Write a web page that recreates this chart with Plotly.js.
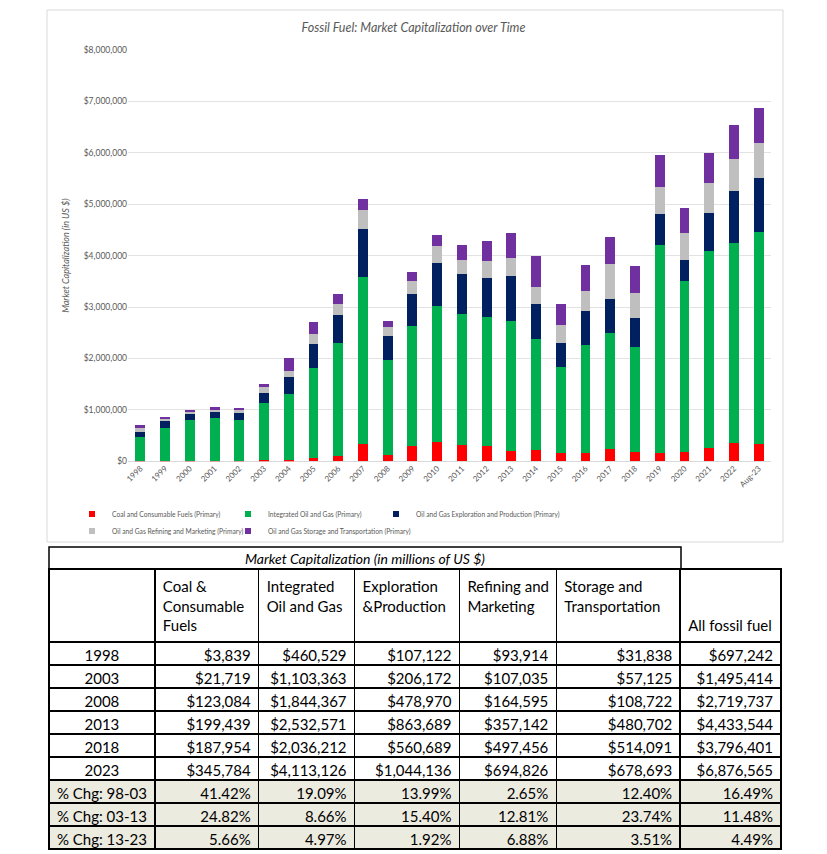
<!DOCTYPE html>
<html>
<head>
<meta charset="utf-8">
<script src="https://cdn.plot.ly/plotly-3.0.1.min.js"></script>
<style>html,body{margin:0;padding:0;background:#fff;}#chart{width:827px;height:854px;}</style>
</head>
<body>
<div id="chart"></div>
<script>
// ---- Chart data (millions of US $) ----
var categories = ['1998','1999','2000','2001','2002','2003','2004','2005','2006','2007','2008','2009','2010','2011','2012','2013','2014','2015','2016','2017','2018','2019','2020','2021','2022','Aug-23'];
var coal  = [3839, 4000, 3000, 3000, 5000, 21719, 30000, 58000, 104000, 338000, 123084, 299000, 383000, 318000, 299000, 199439, 221000, 156000, 162000, 234000, 187954, 162000, 175000, 253000, 357000, 345784];
var integ = [460529, 638000, 802000, 848000, 800000, 1103363, 1288000, 1760000, 2195000, 3246000, 1844367, 2324000, 2630000, 2539000, 2513000, 2532571, 2162000, 1688000, 2104000, 2253000, 2036212, 4046000, 3338000, 3838000, 3890000, 4113126];
var ep    = [107122, 143000, 124000, 117000, 137000, 206172, 318000, 461000, 545000, 934000, 478970, 630000, 844000, 792000, 746000, 863689, 675000, 448000, 656000, 675000, 560689, 602000, 403000, 739000, 1017000, 1044136];
var rm    = [93914, 40000, 30000, 32000, 52000, 107035, 130000, 195000, 221000, 362000, 164595, 253000, 325000, 260000, 345000, 357142, 325000, 357000, 396000, 669000, 497456, 526000, 524000, 584000, 623000, 694826];
var st    = [31838, 32000, 45000, 52000, 51000, 57125, 253000, 227000, 188000, 222000, 108722, 169000, 218000, 299000, 376000, 480702, 611000, 409000, 494000, 540000, 514091, 629000, 487000, 584000, 651000, 678693];
var seriesNames = ['Coal and Consumable Fuels (Primary)', 'Integrated Oil and Gas (Primary)', 'Oil and Gas Exploration and Production (Primary)', 'Oil and Gas Refining and Marketing (Primary)', 'Oil and Gas Storage and Transportation (Primary)'];

// ---- Table data ----
var tableTitle = 'Market Capitalization (in millions of US $)';
var tableHeaders = ['', 'Coal &<br>Consumable<br>Fuels', 'Integrated<br>Oil and Gas', 'Exploration<br>&Production', 'Refining and<br>Marketing', 'Storage and<br>Transportation', '\u00a0<br>\u00a0<br>All fossil fuel'];
var tableYears = ['1998', '2003', '2008', '2013', '2018', '2023'];
var coalT  = [3839, 21719, 123084, 199439, 187954, 345784];
var integT = [460529, 1103363, 1844367, 2532571, 2036212, 4113126];
var epT    = [107122, 206172, 478970, 863689, 560689, 1044136];
var rmT    = [93914, 107035, 164595, 357142, 497456, 694826];
var stT    = [31838, 57125, 108722, 480702, 514091, 678693];
var allT   = [697242, 1495414, 2719737, 4433544, 3796401, 6876565];
var pctLabels = ['%\u00a0Chg:\u00a098-03', '%\u00a0Chg:\u00a003-13', '%\u00a0Chg:\u00a013-23'];
var pctCoal  = [41.42, 24.82, 5.66];
var pctInteg = [19.09, 8.66, 4.97];
var pctEP    = [13.99, 15.40, 1.92];
var pctRM    = [2.65, 12.81, 6.88];
var pctST    = [12.40, 23.74, 3.51];
var pctAll   = [16.49, 11.48, 4.49];

// ---- styling ----
var colors = ['#FF0000', '#00B050', '#002060', '#BFBFBF', '#7030A0'];
var W = 827, H = 854;
var FONT = 'Lato, "Open Sans", sans-serif';
var GRAY = '#595959';
var CLEAR = 'rgba(0,0,0,0)';
function px(x){ return x / W; }
function py(y){ return 1 - y / H; }

var legendIds = ['legend', 'legend2', 'legend3', 'legend4', 'legend5'];
var seriesData = [coal, integ, ep, rm, st];
var traces = seriesData.map(function(vals, i){
  return {
    type: 'bar', x: categories, y: vals, name: seriesNames[i],
    marker: {color: colors[i], line: {width: 0}},
    showlegend: false, legendgroup: 'g' + i,
    hoverinfo: 'x+y+name'
  };
});
// legend keys (small squares, as in the original chart)
seriesNames.forEach(function(n, i){
  traces.push({
    type: 'scatter', mode: 'markers', x: [null], y: [null], name: n,
    marker: {symbol: 'square', size: 6, color: colors[i]},
    legend: legendIds[i], legendgroup: 'g' + i, showlegend: true, hoverinfo: 'skip'
  });
});

function money(v){ return '$' + v.toLocaleString('en-US'); }
function pct(v){ return v.toFixed(2) + '%'; }
function col(vals, pcts){ return vals.map(money).concat(pcts.map(pct)); }

var cellCols = [
  tableYears.concat(pctLabels),
  col(coalT, pctCoal), col(integT, pctInteg), col(epT, pctEP),
  col(rmT, pctRM), col(stT, pctST), col(allT, pctAll)
];
var nRows = tableYears.length + pctLabels.length;
var fillCol = [];
for (var r = 0; r < nRows; r++) fillCol.push(r < tableYears.length ? '#FFFFFF' : '#ECEBE0');
var fills = cellCols.map(function(){ return fillCol; });

var colEdges = [49, 155, 259, 355, 460, 557, 681, 782];
var colWidths = [];
for (var c = 0; c < colEdges.length - 1; c++) colWidths.push(colEdges[c+1] - colEdges[c]);

var ROWH = 23, HEADH = 72, TOP_T = 547, TOP_H = 569;
var tblFont = {family: FONT, size: 15, color: '#000'};
var tblLine = {color: '#000', width: 1.5};

traces.push({
  type: 'table',
  domain: {x: [px(49), px(782)], y: [0, py(TOP_H)]},
  columnwidth: colWidths,
  header: {values: tableHeaders, align: 'left', height: HEADH, line: tblLine, fill: {color: '#FFFFFF'}, font: tblFont},
  cells: {values: cellCols, align: ['center', 'right', 'right', 'right', 'right', 'right', 'right'],
          height: ROWH, line: tblLine, fill: {color: fills}, font: tblFont}
});

function legendAt(x, y){
  return {
    orientation: 'h', x: px(x), xanchor: 'left', xref: 'paper',
    y: py(y), yanchor: 'middle', yref: 'paper',
    font: {family: FONT, size: 6.7, color: GRAY}, bgcolor: CLEAR,
    itemclick: false, itemdoubleclick: false
  };
}

var layout = {
  width: W, height: H,
  margin: {l: 0, r: 0, t: 0, b: 0},
  paper_bgcolor: '#FFFFFF', plot_bgcolor: '#FFFFFF',
  font: {family: FONT, color: GRAY},
  barmode: 'stack', bargap: 0.6,
  title: {
    text: '<i>Fossil Fuel: Market Capitalization over Time</i>',
    x: 0.5, xanchor: 'center', xref: 'paper',
    y: py(28), yanchor: 'middle', yref: 'paper',
    font: {family: FONT, size: 12.5, color: GRAY}
  },
  xaxis: {
    type: 'category', domain: [px(128), px(771)],
    tickangle: -45, tickfont: {family: FONT, size: 8, color: GRAY},
    showgrid: false, showline: false, ticks: '', zeroline: false
  },
  yaxis: {
    domain: [py(461.3), py(50)], range: [0, 8000000], dtick: 1000000,
    tickformat: '$,.0f', tickfont: {family: FONT, size: 8.5, color: GRAY},
    gridcolor: '#E3E3E3', gridwidth: 1, zeroline: true, zerolinecolor: '#D9D9D9',
    showline: false, ticks: '',
    title: {text: '<i>Market Capitalization (in US $)</i>', standoff: 12, font: {family: FONT, size: 9, color: GRAY}}
  },
  showlegend: true,
  legend: legendAt(72, 514),
  legend2: legendAt(228, 514),
  legend3: legendAt(376, 514),
  legend4: legendAt(72, 531),
  legend5: legendAt(228, 531),
  shapes: [
    {type: 'rect', xref: 'paper', yref: 'paper', layer: 'below',
     x0: px(47), x1: px(783), y0: py(542), y1: py(10),
     line: {color: '#D9D9D9', width: 1}, fillcolor: CLEAR},
    {type: 'rect', xref: 'paper', yref: 'paper', layer: 'above',
     x0: px(49), x1: px(681), y0: py(TOP_H), y1: py(TOP_T),
     line: {color: '#000', width: 1.5}, fillcolor: CLEAR}
  ],
  annotations: [{
    xref: 'paper', yref: 'paper', x: px((49 + 681) / 2), y: py((TOP_T + TOP_H) / 2),
    xanchor: 'center', yanchor: 'middle', showarrow: false,
    text: '<i>' + tableTitle + '</i>', font: {family: FONT, size: 14, color: '#000'}
  }]
};

Plotly.newPlot('chart', traces, layout, {displayModeBar: false});
</script>
</body>
</html>
